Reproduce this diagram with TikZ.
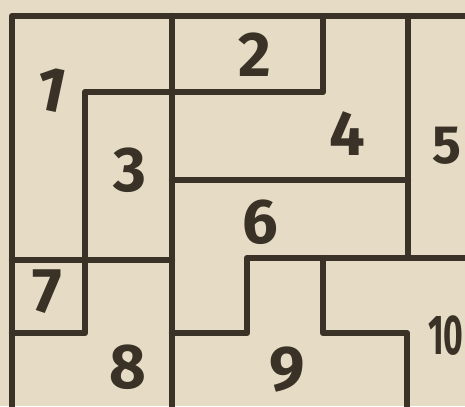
\documentclass[tikz,border=0pt]{standalone}
\usepackage{fontspec}
\setmainfont{Fira Sans}
\usepackage{xcolor}
\definecolor{paper}{HTML}{E6DCC5}
\definecolor{ink}{HTML}{3A3226}

\begin{document}
\begin{tikzpicture}[x=0.03cm,y=-0.03cm,
  wall/.style={ink,line width=0.19cm,line join=round,line cap=round},
  num/.style={ink,font=\fontsize{54}{54}\selectfont\bfseries,inner sep=0pt}]
  % Paper
  \fill[paper] (0,0) rectangle (465,406);
  \useasboundingbox (0,0) rectangle (465,406);
  \clip (0,0) rectangle (465,406);

  % Outer frame
  \draw[wall] (12,416) -- (12,16) -- (475,16);
  \draw[wall] (172,16) -- (172,416);
  \draw[wall] (408,16) -- (408,258);

  % Pieces 1, 2, 3, 4
  \draw[wall] (172,92) -- (323,92) -- (323,16);
  \draw[wall] (172,92) -- (85,92) -- (85,333) -- (12,333);
  \draw[wall] (172,180) -- (408,180);

  % Pieces 6, 7, 9, 10
  \draw[wall] (12,260) -- (172,260);
  \draw[wall] (172,333) -- (247,333) -- (247,258) -- (475,258);
  \draw[wall] (323,258) -- (323,333) -- (407,333) -- (407,416);

  % Numbers
  \node[num,rotate=-12] (n1) at (51,90) {1};
  \node[num] (n2) at (255,55) {2};
  \node[num] (n3) at (130,170) {3};
  \node[num] (n4) at (347,134) {4};
  \node[num,anchor=west,font=\fontsize{46}{46}\selectfont\bfseries] (n5) at (432,146) {5};
  \node[num] (n6) at (260,222) {6};
  \node[num] (n7) at (47,292) {7};
  \node[num] (n8) at (128,367) {8};
  \node[num] (n9) at (287,370) {9};
  \node[num,anchor=west,xscale=0.6,font=\fontsize{48}{48}\selectfont\bfseries] (n10) at (428,336) {10};
\end{tikzpicture}
\end{document}
